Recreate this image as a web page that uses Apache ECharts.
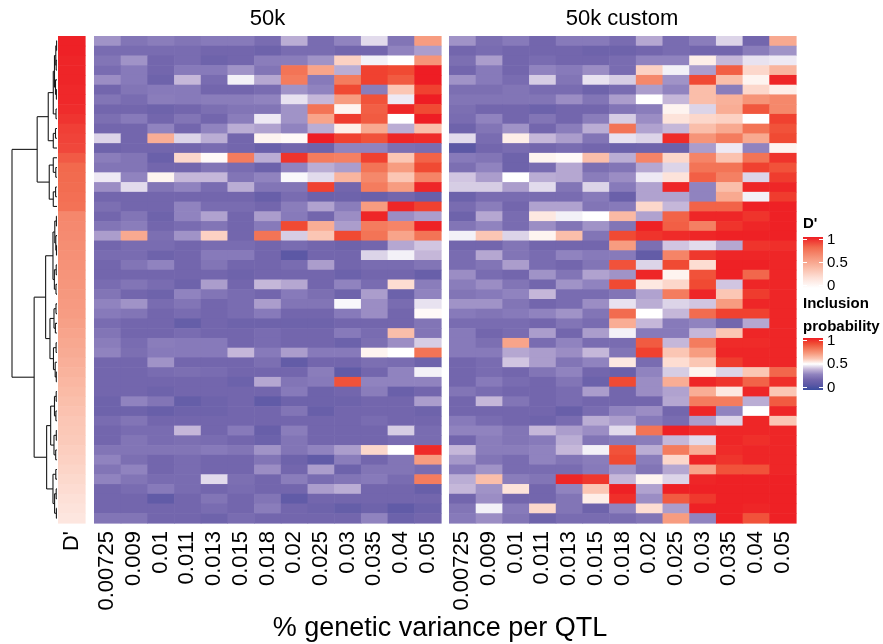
<!DOCTYPE html>
<html>
<head>
<meta charset="utf-8">
<script src="https://cdn.jsdelivr.net/npm/echarts@6/dist/echarts.min.js"></script>
<style>
html,body{margin:0;padding:0;background:#fff;}
#chart{width:883px;height:644px;}
</style>
</head>
<body>
<div id="chart"></div>
<script>
// ---------------- DATA ----------------
const columns = ['0.00725','0.009','0.01','0.011','0.013','0.015','0.018','0.02','0.025','0.03','0.035','0.04','0.05'];
const dPrimeLabel = ["D'"];
const panelTitles = ['50k', '50k custom'];
const xAxisTitle = '% genetic variance per QTL';

// D' annotation, one value per row (top to bottom)
const dPrime = [0.99,0.99,0.98,0.98,0.98,0.97,0.97,0.96,0.94,0.91,0.90,0.89,0.84,0.80,0.79,0.78,0.77,0.76,
  0.66,0.65,0.64,0.63,0.62,0.61,0.60,0.59,0.58,0.57,0.56,0.54,0.52,0.50,0.48,0.46,0.44,0.42,0.40,0.38,
  0.36,0.34,0.33,0.32,0.30,0.28,0.26,0.24,0.22,0.20,0.18,0.16];

// Inclusion probability, panel "50k" (rows top to bottom, columns as above)
const prob50k = [
  [0.33,0.25,0.28,0.25,0.27,0.27,0.22,0.38,0.22,0.30,0.45,0.25,0.70],
  [0.22,0.22,0.22,0.22,0.20,0.20,0.18,0.22,0.22,0.20,0.20,0.30,0.35],
  [0.25,0.33,0.20,0.22,0.18,0.20,0.28,0.28,0.33,0.58,0.48,0.50,0.72],
  [0.22,0.27,0.20,0.27,0.27,0.33,0.25,0.80,0.68,0.38,0.92,0.90,1.00],
  [0.32,0.27,0.18,0.40,0.22,0.48,0.37,0.78,0.27,0.78,0.92,0.86,1.00],
  [0.20,0.25,0.27,0.27,0.20,0.20,0.22,0.33,0.30,0.90,0.28,0.60,0.92],
  [0.25,0.22,0.28,0.27,0.28,0.28,0.30,0.46,0.40,0.70,0.88,0.47,1.00],
  [0.20,0.20,0.18,0.20,0.23,0.25,0.25,0.33,0.80,0.52,0.85,0.98,0.90],
  [0.23,0.27,0.20,0.25,0.20,0.28,0.47,0.33,0.68,0.93,0.86,0.50,1.00],
  [0.20,0.20,0.30,0.20,0.30,0.38,0.36,0.30,0.38,0.53,0.67,0.38,0.62],
  [0.44,0.20,0.66,0.44,0.38,0.20,0.52,0.51,1.00,0.92,0.88,0.98,0.97],
  [0.18,0.20,0.20,0.20,0.22,0.20,0.16,0.20,0.18,0.30,0.30,0.23,0.22],
  [0.28,0.25,0.16,0.57,0.51,0.78,0.38,0.95,0.78,0.77,0.92,0.60,0.84],
  [0.25,0.25,0.20,0.20,0.25,0.22,0.17,0.30,0.38,0.35,0.80,0.70,0.90],
  [0.47,0.30,0.52,0.40,0.40,0.25,0.30,0.49,0.45,0.64,0.75,0.60,0.76],
  [0.32,0.45,0.25,0.30,0.22,0.38,0.25,0.25,0.92,0.20,0.78,0.70,0.98],
  [0.20,0.20,0.20,0.20,0.20,0.20,0.15,0.22,0.17,0.18,0.16,0.20,0.15],
  [0.23,0.20,0.20,0.30,0.22,0.22,0.20,0.28,0.36,0.28,0.70,0.98,0.92],
  [0.20,0.25,0.18,0.30,0.36,0.20,0.35,0.27,0.20,0.32,0.98,0.32,0.35],
  [0.25,0.28,0.20,0.22,0.25,0.20,0.27,0.90,0.66,0.35,0.78,0.76,0.99],
  [0.35,0.67,0.23,0.33,0.58,0.20,0.80,0.43,0.60,0.90,0.80,0.68,0.80],
  [0.20,0.22,0.22,0.20,0.22,0.22,0.20,0.22,0.20,0.18,0.20,0.37,0.42],
  [0.22,0.22,0.18,0.20,0.27,0.27,0.20,0.10,0.20,0.20,0.44,0.48,0.40],
  [0.20,0.25,0.30,0.20,0.25,0.20,0.20,0.22,0.35,0.20,0.22,0.22,0.25],
  [0.20,0.20,0.20,0.20,0.20,0.18,0.20,0.20,0.20,0.17,0.20,0.20,0.15],
  [0.22,0.25,0.22,0.18,0.35,0.20,0.40,0.37,0.20,0.30,0.22,0.56,0.28],
  [0.25,0.20,0.18,0.30,0.25,0.22,0.20,0.27,0.23,0.18,0.35,0.17,0.30],
  [0.30,0.33,0.22,0.25,0.20,0.22,0.35,0.25,0.25,0.49,0.32,0.22,0.46],
  [0.27,0.25,0.20,0.22,0.20,0.22,0.27,0.20,0.20,0.27,0.32,0.20,0.51],
  [0.22,0.20,0.20,0.14,0.20,0.18,0.18,0.18,0.18,0.20,0.20,0.20,0.25],
  [0.25,0.20,0.20,0.22,0.20,0.20,0.22,0.20,0.20,0.27,0.22,0.62,0.25],
  [0.28,0.22,0.28,0.27,0.27,0.20,0.22,0.20,0.20,0.17,0.23,0.32,0.43],
  [0.30,0.23,0.27,0.27,0.27,0.40,0.27,0.35,0.27,0.27,0.52,0.50,0.80],
  [0.20,0.20,0.33,0.20,0.20,0.20,0.23,0.13,0.20,0.20,0.23,0.22,0.18],
  [0.20,0.20,0.22,0.23,0.22,0.20,0.20,0.20,0.28,0.12,0.20,0.30,0.48],
  [0.20,0.20,0.20,0.20,0.20,0.17,0.37,0.25,0.27,0.88,0.30,0.30,0.30],
  [0.20,0.20,0.18,0.20,0.20,0.20,0.20,0.27,0.18,0.20,0.28,0.16,0.20],
  [0.18,0.30,0.25,0.14,0.18,0.20,0.12,0.18,0.18,0.18,0.20,0.20,0.35],
  [0.18,0.18,0.15,0.18,0.18,0.20,0.20,0.25,0.15,0.20,0.20,0.20,0.18],
  [0.22,0.25,0.20,0.20,0.20,0.20,0.20,0.20,0.20,0.20,0.22,0.20,0.20],
  [0.20,0.22,0.22,0.40,0.20,0.27,0.15,0.28,0.20,0.20,0.20,0.43,0.22],
  [0.20,0.25,0.22,0.23,0.22,0.20,0.17,0.25,0.20,0.20,0.20,0.22,0.22],
  [0.25,0.25,0.25,0.25,0.27,0.25,0.33,0.25,0.30,0.35,0.57,0.50,0.97],
  [0.30,0.23,0.20,0.22,0.20,0.20,0.25,0.18,0.12,0.28,0.20,0.25,0.70],
  [0.25,0.30,0.20,0.22,0.20,0.20,0.32,0.20,0.35,0.18,0.25,0.25,0.22],
  [0.30,0.25,0.22,0.22,0.45,0.23,0.20,0.28,0.22,0.25,0.27,0.22,0.78],
  [0.20,0.22,0.27,0.22,0.20,0.22,0.20,0.20,0.35,0.38,0.20,0.20,0.15],
  [0.20,0.20,0.12,0.20,0.25,0.20,0.25,0.12,0.20,0.20,0.20,0.20,0.20],
  [0.20,0.20,0.20,0.20,0.22,0.20,0.28,0.20,0.18,0.14,0.18,0.12,0.17],
  [0.25,0.25,0.20,0.20,0.18,0.22,0.20,0.20,0.20,0.20,0.30,0.17,0.20]
];

// Inclusion probability, panel "50k custom"
const prob50kCustom = [
  [0.33,0.23,0.27,0.20,0.27,0.27,0.22,0.37,0.22,0.28,0.44,0.20,0.67],
  [0.20,0.22,0.20,0.20,0.20,0.18,0.18,0.20,0.22,0.20,0.20,0.28,0.33],
  [0.23,0.35,0.20,0.22,0.20,0.20,0.22,0.30,0.30,0.53,0.40,0.46,0.47],
  [0.20,0.27,0.20,0.30,0.27,0.32,0.22,0.58,0.48,0.35,0.85,0.57,0.64],
  [0.33,0.27,0.22,0.43,0.25,0.46,0.43,0.75,0.33,0.90,0.62,0.52,0.98],
  [0.23,0.23,0.25,0.22,0.22,0.18,0.22,0.35,0.30,0.62,0.28,0.57,0.53],
  [0.25,0.25,0.25,0.25,0.32,0.25,0.35,0.50,0.40,0.62,0.65,0.72,0.75],
  [0.23,0.20,0.20,0.17,0.20,0.20,0.25,0.28,0.52,0.44,0.66,0.87,0.75],
  [0.22,0.30,0.20,0.25,0.20,0.28,0.43,0.32,0.55,0.57,0.58,0.50,0.92],
  [0.18,0.25,0.33,0.20,0.28,0.38,0.80,0.36,0.40,0.62,0.67,0.80,0.88],
  [0.45,0.22,0.53,0.40,0.35,0.25,0.46,0.44,0.97,0.72,0.78,0.67,0.90],
  [0.10,0.20,0.22,0.20,0.22,0.20,0.17,0.18,0.17,0.35,0.47,0.30,0.52],
  [0.27,0.25,0.18,0.52,0.51,0.62,0.38,0.76,0.57,0.76,0.61,0.80,0.95],
  [0.23,0.30,0.18,0.22,0.37,0.23,0.25,0.37,0.44,0.80,0.80,0.92,0.88],
  [0.42,0.35,0.50,0.38,0.37,0.28,0.32,0.47,0.55,0.85,0.77,0.44,0.93],
  [0.43,0.43,0.35,0.45,0.25,0.44,0.27,0.36,0.98,0.30,0.62,0.98,0.98],
  [0.17,0.22,0.22,0.22,0.22,0.27,0.16,0.36,0.36,0.30,0.67,0.48,0.93],
  [0.22,0.28,0.20,0.36,0.36,0.25,0.27,0.57,0.40,0.84,0.84,0.99,0.99],
  [0.18,0.37,0.22,0.54,0.48,0.50,0.63,0.36,0.84,0.98,0.98,0.95,0.99],
  [0.25,0.30,0.22,0.32,0.25,0.33,0.25,0.99,0.85,0.77,0.95,0.98,0.99],
  [0.48,0.60,0.44,0.52,0.62,0.25,0.90,0.95,0.97,0.98,0.99,0.99,0.99],
  [0.20,0.20,0.25,0.20,0.20,0.20,0.70,0.23,0.42,0.45,0.37,0.95,0.96],
  [0.22,0.37,0.25,0.22,0.30,0.27,0.27,0.13,0.76,0.94,0.98,0.98,0.98],
  [0.22,0.25,0.35,0.22,0.20,0.25,0.88,0.44,0.90,0.56,0.99,0.99,0.98],
  [0.32,0.22,0.20,0.33,0.25,0.36,0.33,0.98,0.52,0.88,0.99,0.83,0.98],
  [0.28,0.32,0.25,0.20,0.33,0.30,0.90,0.54,0.57,0.90,0.42,0.98,0.98],
  [0.25,0.27,0.30,0.40,0.22,0.22,0.25,0.36,0.78,0.98,0.60,0.93,0.98],
  [0.33,0.33,0.25,0.20,0.22,0.32,0.46,0.38,0.44,0.42,0.70,0.98,0.98],
  [0.27,0.25,0.27,0.30,0.33,0.25,0.82,0.50,0.40,0.82,0.92,0.92,0.98],
  [0.22,0.22,0.22,0.20,0.25,0.22,0.66,0.40,0.27,0.30,0.20,0.37,0.98],
  [0.27,0.20,0.22,0.35,0.20,0.35,0.48,0.27,0.27,0.40,0.60,0.98,0.98],
  [0.27,0.23,0.68,0.22,0.30,0.22,0.22,0.86,0.40,0.78,0.97,0.97,0.98],
  [0.27,0.27,0.37,0.35,0.32,0.40,0.25,0.92,0.60,0.70,0.98,0.98,0.98],
  [0.20,0.22,0.42,0.35,0.25,0.30,0.54,0.22,0.56,0.60,0.93,0.98,0.98],
  [0.20,0.22,0.20,0.25,0.30,0.20,0.16,0.30,0.43,0.52,0.44,0.60,0.83],
  [0.20,0.27,0.22,0.20,0.25,0.17,0.90,0.32,0.66,0.98,0.95,0.84,0.96],
  [0.25,0.22,0.20,0.20,0.22,0.35,0.20,0.32,0.36,0.66,0.54,0.98,0.60],
  [0.20,0.40,0.25,0.20,0.22,0.20,0.20,0.20,0.37,0.78,0.78,0.38,0.86],
  [0.20,0.20,0.20,0.20,0.15,0.22,0.30,0.32,0.20,0.98,0.30,0.50,0.98],
  [0.27,0.22,0.20,0.18,0.22,0.38,0.35,0.27,0.22,0.35,0.44,0.98,0.60],
  [0.30,0.30,0.25,0.40,0.35,0.32,0.45,0.80,0.99,0.97,0.98,0.98,0.98],
  [0.20,0.28,0.25,0.27,0.38,0.25,0.27,0.28,0.40,0.45,0.98,0.96,0.98],
  [0.40,0.28,0.28,0.30,0.40,0.48,0.88,0.38,0.78,0.66,0.97,0.98,0.98],
  [0.34,0.25,0.22,0.30,0.25,0.28,0.90,0.28,0.57,0.98,0.95,0.98,0.98],
  [0.27,0.33,0.22,0.22,0.22,0.27,0.33,0.25,0.37,0.68,0.88,0.88,0.98],
  [0.38,0.62,0.28,0.25,0.98,0.94,0.40,0.52,0.44,0.98,0.99,0.99,0.99],
  [0.40,0.33,0.55,0.20,0.30,0.60,0.99,0.36,0.99,0.99,0.99,0.99,0.99],
  [0.20,0.32,0.20,0.20,0.25,0.53,0.96,0.32,0.86,0.94,0.99,0.99,0.99],
  [0.25,0.48,0.27,0.57,0.25,0.18,0.30,0.56,0.35,0.99,0.99,0.98,0.99],
  [0.27,0.32,0.25,0.18,0.22,0.22,0.22,0.25,0.70,0.30,0.99,0.88,0.99]
];

// Row dendrogram: node = [height, left, right]; leaf = row index
const dendrogram = [44.7,
  [19.7,
    [8.7,
      [3.7,
        [2.5, [1.2, [0.4, 0, 1], [0.8, 2, 3]], [1.5, 4, [0.6, 5, 6]]],
        [1.0, 7, 8]],
      [3.7, [1.5, 9, 10], 11]],
    [7.7,
      [3.7, 12, [1.2, 13, 14]],
      [3.7, [1.4, 15, 16], 17]]],
  [22.7,
    [11.3,
      [4.0,
        [2.2, [0.6, 18, 19], [1.2, 20, [0.5, 21, 22]]],
        [2.6, [0.8, 23, 24], [1.0, 25, 26]]],
      [7.0,
        [3.0, [1.0, 27, 28], [1.6, 29, 30]],
        [3.5, [0.9, 31, 32], [1.8, 33, [0.7, 34, 35]]]]],
    [10.3,
      [6.3,
        [2.5, [0.8, 36, 37], [1.1, 38, 39]],
        [3.0, [0.7, 40, 41], [1.3, 42, 43]]],
      [4.0, [1.2, 44, 45], [2.4, [0.8, 46, 47], [0.6, 48, 49]]]]]];

const legendTicks = ['1', '0.5', '0'];

// ---------------- STYLE ----------------
const FONT = 'Liberation Sans, Arial, Helvetica, sans-serif';
const probColors = ['#3a4d9f','#5c58a5','#7366ad','#9083bf','#c5b7d9','#ffffff','#fbc6b4','#f79c80','#f37456','#f04a33','#ee1d24'];
const dColors = ['#ffffff','#fde0d7','#fabba6','#f6947a','#f2694d','#ee1d24'];

const nRows = dPrime.length;
const rowIdx = dPrime.map((_, i) => String(i));

function toCells(mat) {
  const out = [];
  mat.forEach((row, r) => row.forEach((v, c) => out.push([c, r, v])));
  return out;
}
const dCells = dPrime.map((v, r) => [0, r, v]);

// dendrogram segments through layout of the tree
const segs = [];
function lay(node) {
  if (typeof node === 'number') return { y: node + 0.5, h: 0 };
  const h = node[0], L = lay(node[1]), R = lay(node[2]);
  segs.push([h, L.y, h, R.y]);
  segs.push([L.h, L.y, h, L.y]);
  segs.push([R.h, R.y, h, R.y]);
  return { y: (L.y + R.y) / 2, h: h };
}
lay(dendrogram);

const TOP = 36, HEIGHT = 487;
const grids = [
  { left: 58, top: TOP, width: 27, height: HEIGHT },
  { left: 94, top: TOP, width: 347, height: HEIGHT },
  { left: 449, top: TOP, width: 347, height: HEIGHT },
  { left: 12, top: TOP, width: 45, height: HEIGHT }
];

function catX(gi, data) {
  return {
    type: 'category', gridIndex: gi, data: data, position: 'bottom',
    axisLine: { show: false }, axisTick: { show: false }, splitLine: { show: false },
    axisLabel: { rotate: 90, fontSize: 22, color: '#000', margin: 8, fontFamily: FONT, interval: 0 }
  };
}
function catY(gi) {
  return { type: 'category', gridIndex: gi, data: rowIdx, inverse: true, show: false };
}

function cellSeries(gi, data) {
  return {
    type: 'custom', xAxisIndex: gi, yAxisIndex: gi, data: data,
    encode: { x: 0, y: 1 },
    renderItem: function (params, api) {
      const c = api.coord([api.value(0), api.value(1)]);
      const s = api.size([1, 1]);
      return {
        type: 'rect',
        shape: { x: c[0] - s[0] / 2, y: c[1] - s[1] / 2, width: s[0] + 0.6, height: s[1] + 0.6 },
        style: { fill: api.visual('color') }
      };
    }
  };
}

function gradStops(colors) {
  const n = colors.length;
  return colors.slice().reverse().map((c, i) => ({ offset: i / (n - 1), color: c }));
}

function legendBlock(x, y0, y1, colors, tickYs) {
  const els = [];
  els.push({
    type: 'rect', shape: { x: x, y: y0, width: 20, height: y1 - y0 },
    style: { fill: new echarts.graphic.LinearGradient(0, 0, 0, 1, gradStops(colors)) }
  });
  tickYs.forEach((ty, i) => {
    els.push({ type: 'line', shape: { x1: x, y1: ty, x2: x + 4, y2: ty }, style: { stroke: '#fff', lineWidth: 1 } });
    els.push({ type: 'line', shape: { x1: x + 16, y1: ty, x2: x + 20, y2: ty }, style: { stroke: '#fff', lineWidth: 1 } });
    els.push({ type: 'text', x: x + 24, y: ty, style: { text: legendTicks[i], font: '15px ' + FONT, fill: '#000', textAlign: 'left', textVerticalAlign: 'middle' } });
  });
  return els;
}

const chart = echarts.init(document.getElementById('chart'), null, { renderer: 'canvas' });
const option = {
  backgroundColor: '#fff',
  animation: false,
  grid: grids,
  xAxis: [
    catX(0, dPrimeLabel),
    catX(1, columns),
    catX(2, columns),
    { type: 'value', gridIndex: 3, min: 0, max: 44.7, inverse: true, show: false }
  ],
  yAxis: [
    catY(0), catY(1), catY(2),
    { type: 'value', gridIndex: 3, min: 0, max: nRows, inverse: true, show: false }
  ],
  visualMap: [
    { type: 'continuous', show: false, seriesIndex: 0, min: 0, max: 1, dimension: 2, inRange: { color: dColors } },
    { type: 'continuous', show: false, seriesIndex: [1, 2], min: 0, max: 1, dimension: 2, inRange: { color: probColors } }
  ],
  series: [
    cellSeries(0, dCells),
    cellSeries(1, toCells(prob50k)),
    cellSeries(2, toCells(prob50kCustom)),
    {
      type: 'custom', xAxisIndex: 3, yAxisIndex: 3, data: segs, clip: false,
      encode: { x: [0, 2], y: [1, 3] },
      renderItem: function (params, api) {
        const p1 = api.coord([api.value(0), api.value(1)]);
        const p2 = api.coord([api.value(2), api.value(3)]);
        return { type: 'line', shape: { x1: p1[0], y1: p1[1], x2: p2[0], y2: p2[1] }, style: { stroke: '#1a1a1a', lineWidth: 1.1 } };
      }
    }
  ],
  graphic: [
    { type: 'text', x: 267.5, y: 18.5, style: { text: panelTitles[0], font: '22px ' + FONT, fill: '#000', textAlign: 'center', textVerticalAlign: 'middle' } },
    { type: 'text', x: 622, y: 18.5, style: { text: panelTitles[1], font: '22px ' + FONT, fill: '#000', textAlign: 'center', textVerticalAlign: 'middle' } },
    { type: 'text', x: 440, y: 629, style: { text: xAxisTitle, font: '27px ' + FONT, fill: '#000', textAlign: 'center', textVerticalAlign: 'middle' } },
    { type: 'text', x: 803, y: 224, style: { text: "D'", font: 'bold 15px ' + FONT, fill: '#000', textAlign: 'left', textVerticalAlign: 'middle' } },
    { type: 'text', x: 803, y: 304, style: { text: 'Inclusion', font: 'bold 15px ' + FONT, fill: '#000', textAlign: 'left', textVerticalAlign: 'middle' } },
    { type: 'text', x: 803, y: 327, style: { text: 'probability', font: 'bold 15px ' + FONT, fill: '#000', textAlign: 'left', textVerticalAlign: 'middle' } }
  ].concat(legendBlock(803, 237, 288, dColors, [239.5, 262.5, 285.5]))
   .concat(legendBlock(803, 338, 390, probColors, [340.5, 364, 387.5]))
};
chart.setOption(option);
</script>
</body>
</html>
